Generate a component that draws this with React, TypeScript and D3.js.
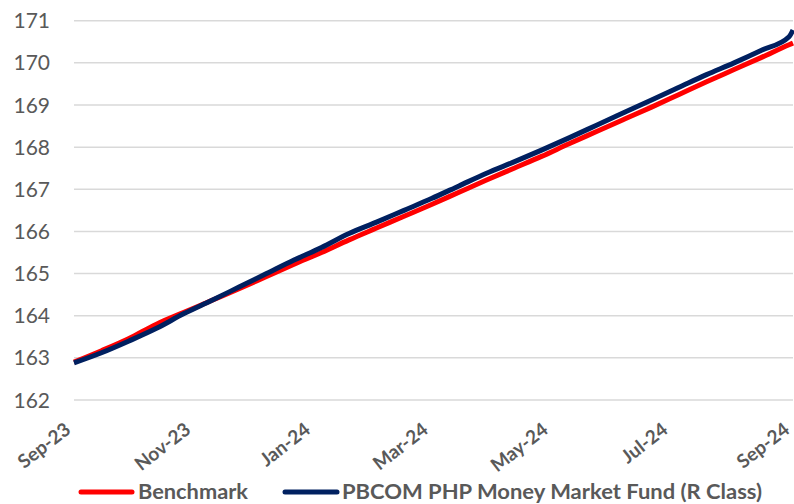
import React from 'react';
import * as d3 from 'd3';

const dates = [
  '2023-09-01', '2023-09-15', '2023-09-29', '2023-10-13', '2023-10-27', '2023-11-10', '2023-11-24',
  '2023-12-08', '2023-12-22', '2024-01-05', '2024-01-19', '2024-02-02', '2024-02-16', '2024-03-01',
  '2024-03-15', '2024-03-29', '2024-04-12', '2024-04-26', '2024-05-10', '2024-05-24', '2024-06-07',
  '2024-06-21', '2024-07-05', '2024-07-19', '2024-08-02', '2024-08-16', '2024-08-30', '2024-09-01',
];

const benchmark = [
  162.9, 163.17, 163.46, 163.8, 164.08, 164.36, 164.64,
  164.93, 165.22, 165.5, 165.8, 166.08, 166.36, 166.64,
  166.93, 167.22, 167.5, 167.78, 168.08, 168.37, 168.66,
  168.95, 169.25, 169.55, 169.84, 170.13, 170.43, 170.47,
];

const fund = [
  162.88, 163.12, 163.4, 163.7, 164.05, 164.36, 164.68,
  165.0, 165.32, 165.62, 165.95, 166.22, 166.5, 166.78,
  167.08, 167.38, 167.65, 167.93, 168.22, 168.52, 168.82,
  169.12, 169.42, 169.72, 170.0, 170.3, 170.62, 170.78,
];

const yTicks = [162, 163, 164, 165, 166, 167, 168, 169, 170, 171];
const xTicks = ['2023-09-01', '2023-11-01', '2024-01-01', '2024-03-01', '2024-05-01', '2024-07-01', '2024-09-01'];

const seriesNames = ['Benchmark', 'PBCOM PHP Money Market Fund (R Class)'];
const seriesColors = ['#ff0000', '#002060'];

const W = 794;
const H = 504;
const margin = { left: 74, right: 1, top: 20.7, bottom: 104 };
const font = 'Lato, "Open Sans", sans-serif';
const textColor = '#595959';

const App = () => {
  const parse = d3.timeParse('%Y-%m-%d');
  const fmt = d3.timeFormat('%b-%y');

  const x = d3.scaleTime()
    .domain([parse(xTicks[0])!, parse(xTicks[xTicks.length - 1])!])
    .range([margin.left, W - margin.right]);

  const y = d3.scaleLinear()
    .domain([162, 171])
    .range([H - margin.bottom, margin.top]);

  const line = d3.line<number>()
    .x((_, i) => x(parse(dates[i])!))
    .y(d => y(d))
    .curve(d3.curveMonotoneX);

  const series = [benchmark, fund];

  return (
    <svg width={W} height={H} style={{ position: 'absolute', left: 0, top: 0, background: '#fff' }}>
      {yTicks.map(t => (
        <g key={t}>
          <line x1={margin.left} x2={W - margin.right} y1={y(t)} y2={y(t)} stroke="#d9d9d9" strokeWidth={1.5} />
          <text x={50} y={y(t)} dy="0.36em" textAnchor="end" fontFamily={font} fontSize={21} fill={textColor}>
            {t}
          </text>
        </g>
      ))}

      {xTicks.map(t => {
        const px = x(parse(t)!);
        return (
          <text
            key={t}
            transform={`translate(${px - 2},${432}) rotate(-38)`}
            textAnchor="end"
            fontFamily={font}
            fontSize={19}
            fontWeight="bold"
            fill={textColor}
          >
            {fmt(parse(t)!)}
          </text>
        );
      })}

      {series.map((s, i) => (
        <path
          key={seriesNames[i]}
          d={line(s) ?? ''}
          fill="none"
          stroke={seriesColors[i]}
          strokeWidth={5}
          strokeLinejoin="round"
        />
      ))}

      <g fontFamily={font} fontSize={20} fontWeight="bold" fill={textColor}>
        <line x1={81} x2={132} y1={492} y2={492} stroke={seriesColors[0]} strokeWidth={5} strokeLinecap="round" />
        <text x={138} y={492} dy="0.36em" textLength={110} lengthAdjust="spacingAndGlyphs">{seriesNames[0]}</text>
        <line x1={285} x2={337} y1={492} y2={492} stroke={seriesColors[1]} strokeWidth={5} strokeLinecap="round" />
        <text x={342} y={492} dy="0.36em" textLength={420} lengthAdjust="spacingAndGlyphs">{seriesNames[1]}</text>
      </g>
    </svg>
  );
};

export default App;
